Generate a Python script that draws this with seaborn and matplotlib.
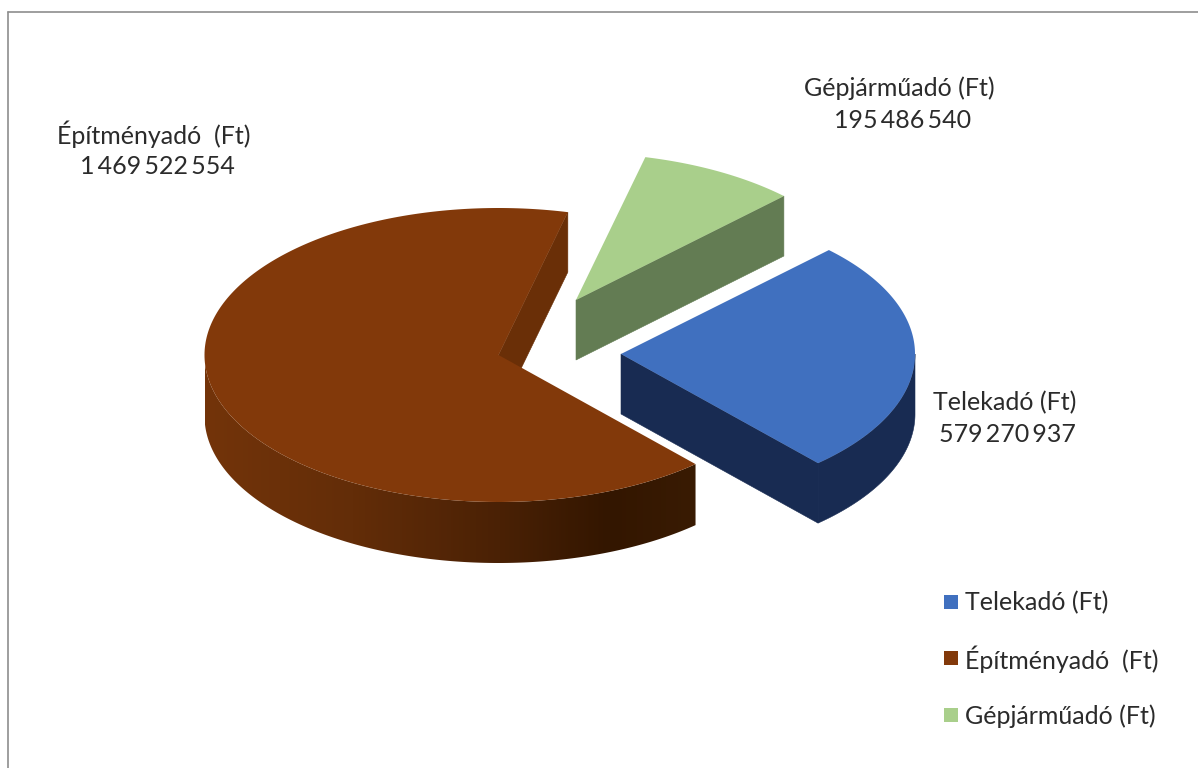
import numpy as np
import matplotlib
matplotlib.use("Agg")
import matplotlib.pyplot as plt
from matplotlib.colors import LinearSegmentedColormap
from matplotlib.patches import Polygon, Rectangle
import seaborn as sns

categories = ["Telekadó (Ft)", "Építményadó  (Ft)", "Gépjárműadó (Ft)"]
values = [579270937, 1469522554, 195486540]
value_labels = ["579\u2009270\u2009937", "1\u2009469\u2009522\u2009554", "195\u2009486\u2009540"]

top_colors = ["#4070BF", "#82390A", "#A9CF8B"]
wall_colors = ["#182B52", "#6A2F07", "#637C53"]
gradient_stops = [(0.0, "#73340A"), (0.3, "#632D08"), (0.6, "#4A2105"), (0.82, "#331600"), (1.0, "#391B03")]

W, H = 1198, 768
START = 45.0
RX, RY, DEPTH = 294.0, 147.0, 60.0
BROWN_DEPTH = 61.0
centers = [(621, 354), (498.5, 355), (576, 300)]
label_pos = [(1004.5, 419), (154, 150), (899.5, 104)]
legend_rows = [603, 659, 716]

sns.set_theme(style="white")
plt.rcParams["font.family"] = ["Lato", "DejaVu Sans"]

fig = plt.figure(figsize=(W / 100, H / 100), dpi=100, facecolor="white")
ax = fig.add_axes([0, 0, 1, 1])
ax.set_xlim(0, W)
ax.set_ylim(H, 0)
ax.axis("off")


def rim(c, a0, a1, dy=0.0, n=240):
    t = np.radians(np.linspace(a0, a1, n))
    return np.column_stack([c[0] + RX * np.sin(t), c[1] + dy - RY * np.cos(t)])


def radial_wall(c, angle, color, depth):
    end = rim(c, angle, angle, n=1)[0]
    ax.add_patch(Polygon([c, end, (end[0], end[1] + depth), (c[0], c[1] + depth)],
                         fc=color, ec=color, lw=0.4, zorder=3))


fractions = np.array(values) / np.sum(values)
edges = START + np.concatenate([[0], np.cumsum(fractions) * 360])
spans = list(zip(edges[:-1], edges[1:]))

# frame: only the top and left edges are visible in the crop
ax.plot([8, W + 5], [11.5, 11.5], color="#8E8E8E", lw=1.2, zorder=1)
ax.plot([8, 8], [11.5, H + 5], color="#8E8E8E", lw=1.2, zorder=1)

# Gépjárműadó
c = centers[2]
a0, a1 = spans[2]
radial_wall(c, a1, wall_colors[2], DEPTH)
ax.add_patch(Polygon(np.vstack([[c], rim(c, a0, a1)]), fc=top_colors[2], ec="none", zorder=4))

# Telekadó
c = centers[0]
a0, a1 = spans[0]
radial_wall(c, a1, wall_colors[0], DEPTH)
ax.add_patch(Polygon(np.vstack([rim(c, 90, a1), rim(c, 90, a1, DEPTH)[::-1]]),
                     fc=wall_colors[0], ec=wall_colors[0], lw=0.4, zorder=3))
ax.add_patch(Polygon(np.vstack([[c], rim(c, a0, a1)]), fc=top_colors[0], ec="none", zorder=4))

# Építményadó
c = centers[1]
a0, a1 = spans[1]
radial_wall(c, a1, wall_colors[1], DEPTH)
wall = Polygon(np.vstack([rim(c, a0, 270), rim(c, a0, 270, BROWN_DEPTH)[::-1]]),
               fc="none", ec="none", transform=ax.transData)
ax.add_patch(wall)
cmap = LinearSegmentedColormap.from_list("wall", gradient_stops)
im = ax.imshow(np.linspace(0, 1, 256)[None, :], cmap=cmap, aspect="auto",
               extent=(c[0] - RX, c[0] + RX * np.sin(np.radians(a0)), H, 0), zorder=3)
im.set_clip_path(wall)
ax.set_xlim(0, W)
ax.set_ylim(H, 0)
ax.add_patch(Polygon(np.vstack([[c], rim(c, a0, a1)]), fc=top_colors[1], ec="none", zorder=4))

# labels
txt = "#2B2B2B"
fs = 18.0
for name, val, (x, y) in zip(categories, value_labels, label_pos):
    ax.text(x, y - 16, name, ha="center", va="center", fontsize=fs, color=txt, zorder=6)
    ax.text(x + 3, y + 16, val, ha="center", va="center", fontsize=fs, color=txt, zorder=6)

# legend
for name, col, y in zip(categories, top_colors, legend_rows):
    ax.add_patch(Rectangle((944, y - 8), 14, 14, fc=col, ec="none", zorder=6))
    ax.text(965, y, name, ha="left", va="center", fontsize=fs, color=txt, zorder=6)

fig.savefig("out.png", dpi=100, facecolor="white")
